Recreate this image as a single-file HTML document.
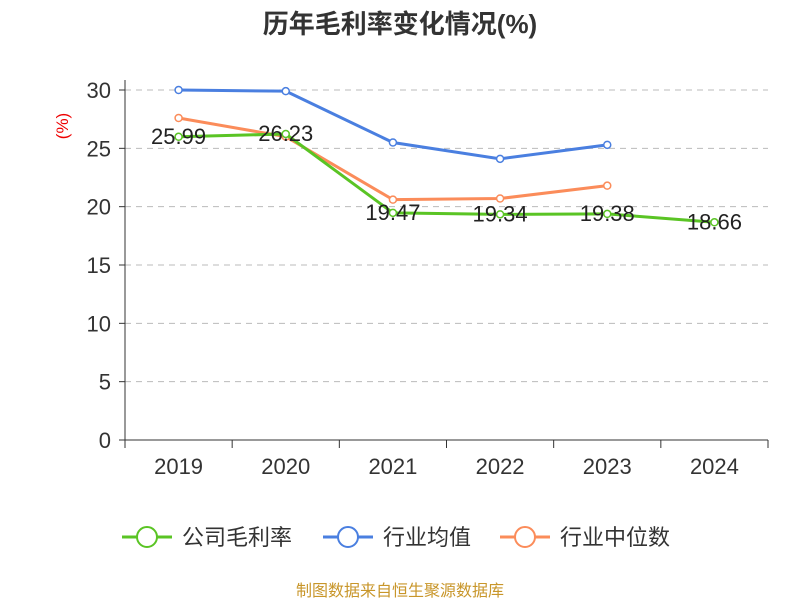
<!DOCTYPE html>
<html><head><meta charset="utf-8"><style>
body{margin:0;background:#fff;}
svg{font-family:"Liberation Sans","Noto Sans CJK SC",sans-serif;}
</style></head><body>
<svg id="chart" width="800" height="600">
<text x="400" y="33" text-anchor="middle" font-size="26" font-weight="bold" fill="#333">历年毛利率变化情况(%)</text>
<text transform="translate(68,126) rotate(-90)" text-anchor="middle" font-size="17" fill="#e00">(%)</text>
<g id="grid"></g><g id="axes"></g><g id="series"></g><g id="labels"></g>
<g id="legend" font-size="22" fill="#333"></g>
<text x="400" y="596" text-anchor="middle" font-size="16" fill="#c8962a">制图数据来自恒生聚源数据库</text>
</svg>
<script>
const categories=["2019","2020","2021","2022","2023","2024"];
const yTicks=[0,5,10,15,20,25,30];
const companyMargin=[25.99,26.23,19.47,19.34,19.38,18.66];
const industryAvg=[30.0,29.9,25.5,24.1,25.3,null];
const industryMedian=[27.6,26.0,20.6,20.7,21.8,null];
const companyLabels=["25.99","26.23","19.47","19.34","19.38","18.66"];
const NS="http://www.w3.org/2000/svg";
const x0=125,x1=768,y0=440,y1=90,yMax=30;
const bw=(x1-x0)/categories.length;
const xs=i=>x0+bw*(i+0.5);
const ys=v=>y0-(v/yMax)*(y0-y1);
function mk(tag,attrs,parent){const e=document.createElementNS(NS,tag);for(const k in attrs)e.setAttribute(k,attrs[k]);document.getElementById(parent).appendChild(e);return e;}
yTicks.forEach(t=>{
 if(t>0){const g=mk('line',{x1:x0,x2:x1,y1:ys(t),y2:ys(t),stroke:'#bbb','stroke-dasharray':'6,5'},'grid');
 
 }
 const tk=mk('line',{x1:x0-6,x2:x0,y1:ys(t),y2:ys(t),stroke:'#333'},'axes');
 
 
 const l=mk('text',{x:x0-14,y:ys(t)+8,'text-anchor':'end','font-size':22,fill:'#333'},'axes');l.textContent=t;
 
 
});
const ya=mk('line',{x1:x0,x2:x0,y1:y1-10,y2:y0,stroke:'#333'},'axes');


const xa=mk('line',{x1:x0,x2:x1,y1:y0,y2:y0,stroke:'#333'},'axes');


for(let i=0;i<=categories.length;i++){const t=mk('line',{x1:x0+bw*i,x2:x0+bw*i,y1:y0,y2:y0+8,stroke:'#333'},'axes');
 
 }
categories.forEach((c,i)=>{const l=mk('text',{x:xs(i),y:y0+34,'text-anchor':'middle','font-size':22,fill:'#333'},'axes');l.textContent=c;
 
 });
function series(data,color,name){
 const pts=data.map((v,i)=>v==null?null:[xs(i),ys(v)]).filter(p=>p);
 const p=mk('polyline',{points:pts.map(p=>p.join(',')).join(' '),fill:'none',stroke:color,'stroke-width':3},'series');
 
 
 pts.forEach(q=>{const c=mk('circle',{cx:q[0],cy:q[1],r:3.5,fill:'#fff',stroke:color,'stroke-width':1.5},'series');
 
 });
}
series(industryAvg,'#4a7fe0','industry-average');
series(industryMedian,'#fb8c5a','industry-median');
series(companyMargin,'#5ac424','company-margin');
companyMargin.forEach((v,i)=>{const l=mk('text',{x:xs(i),y:ys(v)+7,'text-anchor':'middle','font-size':22,fill:'#222'},'labels');l.textContent=companyLabels[i];
 
 });
const leg=[["公司毛利率","#5ac424",122],["行业均值","#4a7fe0",323],["行业中位数","#fb8c5a",500]];
leg.forEach(([n,c,x])=>{
 const g=mk('g',{},'legend');
 
 
 const a=document.createElementNS(NS,'line');a.setAttribute('x1',x);a.setAttribute('x2',x+50);a.setAttribute('y1',537);a.setAttribute('y2',537);a.setAttribute('stroke',c);a.setAttribute('stroke-width',3);g.appendChild(a);
 const b=document.createElementNS(NS,'circle');b.setAttribute('cx',x+25);b.setAttribute('cy',537);b.setAttribute('r',10);b.setAttribute('fill','#fff');b.setAttribute('stroke',c);b.setAttribute('stroke-width',2);g.appendChild(b);
 const t=document.createElementNS(NS,'text');t.setAttribute('x',x+60);t.setAttribute('y',545);t.textContent=n;g.appendChild(t);
});
</script>
</body></html>
